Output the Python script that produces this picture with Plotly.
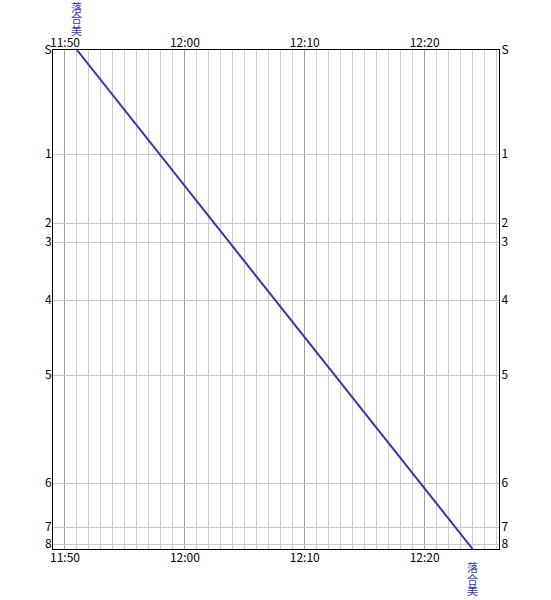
import plotly.graph_objects as go

# Stations (labels and distance positions)
station_names = ["S", "1", "2", "3", "4", "5", "6", "7", "8"]
station_km = [0.0, 10.4, 17.3, 19.2, 25.0, 32.5, 43.3, 47.7, 49.4]
line_end_km = 49.9

# Time axis (minutes after 11:00)
time_range = [49, 86.2]
time_ticks = [50, 60, 70, 80]
time_labels = ["11:50", "12:00", "12:10", "12:20"]

# Train
train_name = "落合美"
train_times = [51, 84]
train_km = [0.0, 49.9]

train_color = "#3838a4"
font_family = "Noto Sans CJK JP, DejaVu Sans, sans-serif"

fig = go.Figure()
fig.add_trace(go.Scatter(
    x=train_times, y=train_km, mode="lines",
    line=dict(color=train_color, width=2),
    hoverinfo="skip", showlegend=False,
))
# invisible trace for the mirrored axes
fig.add_trace(go.Scatter(
    x=train_times, y=train_km, mode="lines", xaxis="x2", yaxis="y2",
    line=dict(color="rgba(0,0,0,0)", width=0),
    hoverinfo="skip", showlegend=False,
))

# Stacked vertical train labels (one character per row)
pitch = 11.7
n = len(train_name)
for i, ch in enumerate(train_name):
    fig.add_annotation(x=train_times[0], y=train_km[0], text=ch, showarrow=False,
                       xanchor="center", yanchor="middle",
                       yshift=14 + pitch * (n - i - 0.5), borderpad=0,
                       font=dict(family=font_family, size=11, color=train_color))
    fig.add_annotation(x=train_times[-1], y=train_km[-1], text=ch, showarrow=False,
                       xanchor="center", yanchor="middle",
                       yshift=-(12 + pitch * (i + 0.5)), borderpad=0,
                       font=dict(family=font_family, size=11, color=train_color))

xcommon = dict(
    range=time_range, tickmode="array", tickvals=time_ticks, ticktext=time_labels,
    showgrid=True, gridcolor="#a0a0a0", gridwidth=1,
    minor=dict(dtick=1, tick0=49, showgrid=True, gridcolor="#cccccc", gridwidth=1),
    showline=True, linecolor="black", linewidth=1,
    ticks="", zeroline=False,
    tickfont=dict(family=font_family, size=12, color="black"),
)
ycommon = dict(
    range=[line_end_km, 0], tickmode="array", tickvals=station_km, ticktext=station_names,
    showgrid=True, gridcolor="#c8c8c8", gridwidth=1,
    showline=True, linecolor="black", linewidth=1,
    ticks="", zeroline=False,
    tickfont=dict(family=font_family, size=12, color="black"),
)

fig.update_layout(
    width=551, height=600,
    margin=dict(l=53, r=52, t=50, b=51),
    plot_bgcolor="white", paper_bgcolor="white",
    showlegend=False,
    xaxis=dict(**xcommon, side="bottom", mirror=True, ticklabelstandoff=-2),
    xaxis2=dict(**xcommon, side="top", overlaying="x", matches="x", ticklabelstandoff=-3),
    yaxis=dict(**ycommon, side="left", mirror=True, ticklabelstandoff=-2),
    yaxis2=dict(**ycommon, side="right", overlaying="y", matches="y", ticklabelstandoff=-1),
)

# remove the default page margin so the figure sits at the window's top-left
fig.write_html("out.html",
               config={"displayModeBar": False},
               post_script="document.body.style.margin='0';document.body.style.overflow='hidden';")
